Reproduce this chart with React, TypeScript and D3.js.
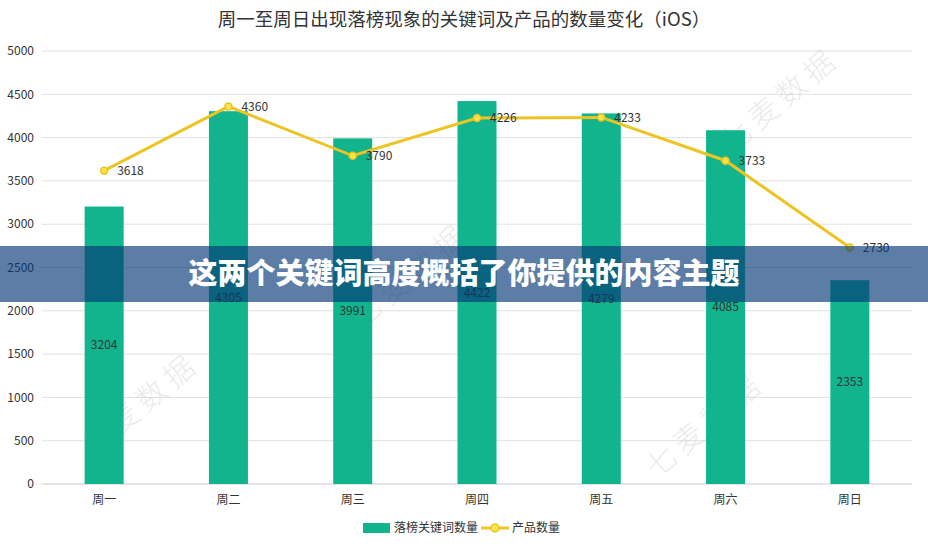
import React from 'react';
import * as d3 from 'd3';

const days = ['周一', '周二', '周三', '周四', '周五', '周六', '周日'];
const keywordCounts = [3204, 4305, 3991, 4422, 4279, 4085, 2353];
const productCounts = [3618, 4360, 3790, 4226, 4233, 3733, 2730];
const yTicks = [0, 500, 1000, 1500, 2000, 2500, 3000, 3500, 4000, 4500, 5000];
const watermarks = [
  { x: 140, y: 405 },
  { x: 780, y: 100 },
  { x: 410, y: 275 },
  { x: 705, y: 425 },
];

const width = 928;
const height = 549;
const margin = { top: 51, right: 16, bottom: 65, left: 42 };
const font = '"Noto Sans CJK SC", "Noto Sans", sans-serif';
const barColor = '#12b48e';
const lineColor = '#ecc423';

const App: React.FC = () => {
  const x = d3
    .scaleBand()
    .domain(days)
    .range([margin.left, width - margin.right]);
  const y = d3
    .scaleLinear()
    .domain([0, 5000])
    .range([height - margin.bottom, margin.top]);
  const barW = 39;
  const cx = (d: string) => x(d)! + x.bandwidth() / 2;

  const line = d3
    .line<number>()
    .x((_, i) => cx(days[i]))
    .y((d) => y(d));

  return (
    <svg
      width={width}
      height={height}
      style={{ position: 'absolute', left: 0, top: 0, background: '#fff' }}
      fontFamily={font}
    >
      <text x={width / 2} y={26} textAnchor="middle" fontSize={18.5} fill="#333">
        周一至周日出现落榜现象的关键词及产品的数量变化（iOS）
      </text>

      {/* grid + y axis labels */}
      {yTicks.map((t) => (
        <g key={t}>
          <line
            x1={margin.left}
            x2={width - margin.right}
            y1={y(t)}
            y2={y(t)}
            stroke={t === 0 ? '#ccc' : '#e0e0e0'}
            strokeWidth={1}
          />
          <text x={34} y={y(t)} dy="0.35em" textAnchor="end" fontSize={12} fill="#333">
            {t}
          </text>
        </g>
      ))}

      {/* x labels */}
      {days.map((d) => (
        <text key={d} x={cx(d)} y={y(0) + 20} textAnchor="middle" fontSize={12} fill="#333">
          {d}
        </text>
      ))}

      {/* watermarks */}
      {watermarks.map((w, i) => (
        <text
          key={i}
          x={w.x}
          y={w.y}
          textAnchor="middle"
          dy="0.35em"
          fontSize={30}
          fontWeight={300}
          fill="#c4c4c4"
          fillOpacity={0.35}
          transform={`rotate(-40 ${w.x} ${w.y})`}
          letterSpacing={6}
        >
          七麦数据
        </text>
      ))}

      {/* bars */}
      {keywordCounts.map((v, i) => (
        <g key={days[i]}>
          <rect
            x={cx(days[i]) - barW / 2}
            y={y(v)}
            width={barW}
            height={y(0) - y(v)}
            fill={barColor}
          />
          <text
            x={cx(days[i])}
            y={(y(v) + y(0)) / 2}
            dy="0.35em"
            textAnchor="middle"
            fontSize={12}
            fill="#333"
          >
            {v}
          </text>
        </g>
      ))}

      {/* line */}
      <path d={line(productCounts) || ''} fill="none" stroke={lineColor} strokeWidth={3} />
      {productCounts.map((v, i) => (
        <g key={'p' + i}>
          <circle cx={cx(days[i])} cy={y(v)} r={3.5} fill="#fbe44c" stroke={lineColor} strokeWidth={1.5} />
          <text x={cx(days[i]) + 13} y={y(v)} dy="0.35em" fontSize={12} fill="#333">
            {v}
          </text>
        </g>
      ))}

      {/* legend */}
      <g>
        <rect x={363} y={523} width={27} height={10} fill={barColor} />
        <text x={394} y={528} dy="0.35em" fontSize={12} fill="#333">
          落榜关键词数量
        </text>
        <line x1={481} x2={509} y1={528} y2={528} stroke={lineColor} strokeWidth={3} />
        <circle cx={495} cy={528} r={4} fill="#fbe44c" stroke={lineColor} strokeWidth={1.5} />
        <text x={512} y={528} dy="0.35em" fontSize={12} fill="#333">
          产品数量
        </text>
      </g>

      {/* overlay banner */}
      <rect x={0} y={246} width={width} height={56} fill="rgb(5,55,119)" fillOpacity={0.65} />
      <text
        x={width / 2}
        y={274}
        dy="0.36em"
        textAnchor="middle"
        fontSize={29}
        fontWeight={900}
        fill="#fff"
      >
        这两个关键词高度概括了你提供的内容主题
      </text>
    </svg>
  );
};

export default App;
